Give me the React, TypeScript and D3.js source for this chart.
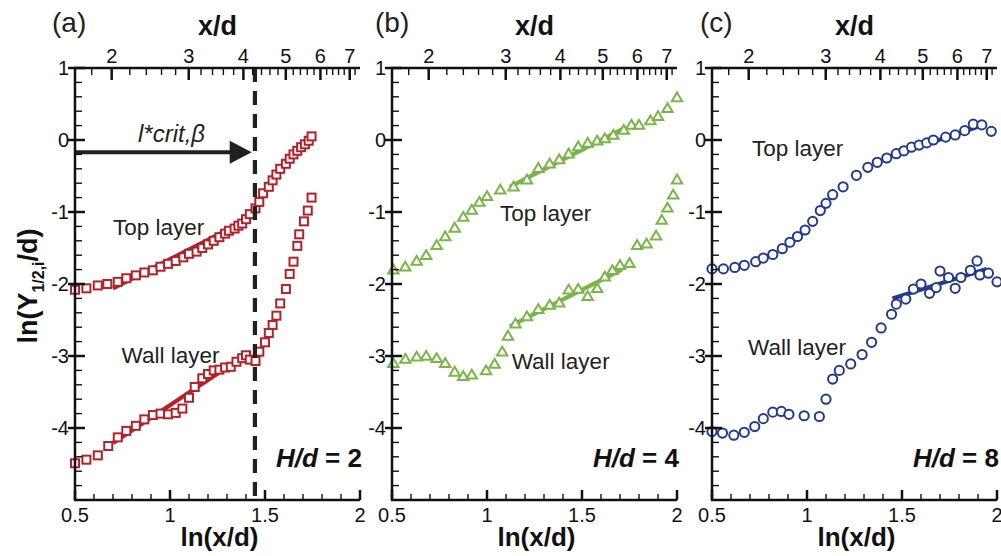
import React from 'react';
import * as d3 from 'd3';

type Pt = [number, number];

// ---- data: [ln(x/d), ln(Y1/2,i/d)] ----
const topA: Pt[] = [[0.50,-2.08],[0.56,-2.06],[0.62,-2.02],[0.67,-2.00],[0.725,-1.97],[0.77,-1.92],[0.82,-1.88],[0.865,-1.84],[0.91,-1.81],[0.95,-1.76],[0.99,-1.72],[1.03,-1.68],[1.07,-1.63],[1.10,-1.58],[1.14,-1.55],[1.17,-1.50],[1.20,-1.45],[1.23,-1.40],[1.26,-1.35],[1.29,-1.30],[1.31,-1.26],[1.34,-1.23],[1.36,-1.19],[1.38,-1.16],[1.40,-1.10],[1.42,-1.03],[1.45,-0.95],[1.47,-0.86],[1.49,-0.74],[1.52,-0.65],[1.54,-0.56],[1.56,-0.48],[1.58,-0.40],[1.61,-0.33],[1.63,-0.26],[1.65,-0.20],[1.67,-0.15],[1.69,-0.10],[1.71,-0.06],[1.73,-0.01],[1.745,0.05]];
const wallA: Pt[] = [[0.50,-4.49],[0.56,-4.44],[0.62,-4.38],[0.675,-4.25],[0.725,-4.13],[0.77,-4.04],[0.82,-3.97],[0.865,-3.88],[0.91,-3.82],[0.95,-3.80],[0.99,-3.81],[1.03,-3.79],[1.065,-3.73],[1.10,-3.58],[1.13,-3.43],[1.17,-3.31],[1.20,-3.25],[1.23,-3.20],[1.26,-3.19],[1.29,-3.16],[1.32,-3.15],[1.35,-3.08],[1.38,-3.03],[1.40,-2.99],[1.42,-3.05],[1.45,-3.07],[1.47,-2.94],[1.50,-2.81],[1.52,-2.68],[1.54,-2.57],[1.56,-2.44],[1.58,-2.27],[1.61,-2.07],[1.63,-1.86],[1.65,-1.69],[1.67,-1.47],[1.68,-1.31],[1.705,-1.13],[1.725,-0.98],[1.745,-0.80]];
const fitTopA: Pt[] = [[0.70,-2.06],[1.39,-1.13]];
const fitWallA: Pt[] = [[0.70,-4.21],[1.39,-3.00]];

const topB: Pt[] = [[0.507,-1.80],[0.57,-1.76],[0.63,-1.68],[0.68,-1.60],[0.735,-1.46],[0.78,-1.34],[0.83,-1.22],[0.875,-1.07],[0.92,-0.97],[0.96,-0.86],[1.00,-0.78],[1.07,-0.69],[1.14,-0.65],[1.21,-0.55],[1.27,-0.39],[1.33,-0.33],[1.38,-0.27],[1.43,-0.19],[1.48,-0.09],[1.53,-0.04],[1.58,-0.01],[1.62,0.02],[1.665,0.07],[1.72,0.14],[1.76,0.21],[1.80,0.21],[1.86,0.27],[1.90,0.33],[1.95,0.44],[2.00,0.59]];
const wallB: Pt[] = [[0.507,-3.10],[0.57,-3.04],[0.63,-3.01],[0.68,-3.00],[0.735,-3.03],[0.78,-3.10],[0.83,-3.22],[0.875,-3.28],[0.92,-3.26],[0.995,-3.20],[1.04,-3.11],[1.08,-2.94],[1.11,-2.72],[1.15,-2.55],[1.21,-2.45],[1.27,-2.35],[1.33,-2.29],[1.38,-2.26],[1.43,-2.08],[1.48,-2.07],[1.53,-2.17],[1.58,-2.06],[1.62,-1.90],[1.66,-1.81],[1.70,-1.74],[1.75,-1.71],[1.79,-1.46],[1.84,-1.44],[1.89,-1.33],[1.92,-1.11],[1.95,-0.94],[1.98,-0.76],[2.00,-0.55]];
const fitTopB: Pt[] = [[1.12,-0.65],[1.72,0.16]];
const fitWallB: Pt[] = [[1.12,-2.59],[1.71,-1.80]];

const topC: Pt[] = [[0.50,-1.79],[0.56,-1.79],[0.62,-1.77],[0.67,-1.74],[0.73,-1.69],[0.77,-1.64],[0.82,-1.59],[0.87,-1.51],[0.91,-1.42],[0.95,-1.34],[0.99,-1.25],[1.03,-1.13],[1.07,-0.98],[1.10,-0.88],[1.135,-0.76],[1.19,-0.65],[1.26,-0.49],[1.32,-0.38],[1.37,-0.31],[1.42,-0.25],[1.47,-0.19],[1.51,-0.15],[1.55,-0.10],[1.59,-0.07],[1.63,-0.04],[1.665,0.00],[1.73,0.04],[1.78,0.07],[1.83,0.13],[1.875,0.22],[1.92,0.21],[1.97,0.12]];
const wallC: Pt[] = [[0.50,-4.05],[0.555,-4.07],[0.615,-4.10],[0.67,-4.06],[0.725,-3.98],[0.77,-3.87],[0.82,-3.78],[0.865,-3.77],[0.905,-3.81],[0.985,-3.83],[1.065,-3.84],[1.10,-3.60],[1.135,-3.32],[1.17,-3.20],[1.23,-3.11],[1.29,-2.98],[1.34,-2.81],[1.39,-2.61],[1.445,-2.42],[1.47,-2.28],[1.52,-2.21],[1.56,-2.07],[1.60,-2.00],[1.645,-2.13],[1.68,-2.05],[1.70,-1.82],[1.745,-1.91],[1.78,-2.06],[1.81,-1.91],[1.86,-1.81],[1.895,-1.68],[1.91,-1.875],[1.955,-1.85],[2.00,-1.97]];
const fitTopC: Pt[] = [[1.455,-0.21],[1.94,0.22]];
const fitWallC: Pt[] = [[1.45,-2.20],[1.945,-1.79]];

// critical length marker in panel (a)
const critX = 1.447;
const arrowY = -0.17;

// ticks
const yTicks = [1, 0, -1, -2, -3, -4];
const xTicks = [0.5, 1, 1.5, 2];
const topMajor = [2, 3, 4, 5, 6, 7];

const FONT = "'Liberation Sans', Arial, Helvetica, sans-serif";
const TXT = '#231f20';

type Marker = 'square' | 'triangle' | 'circle';

interface PanelCfg {
  x0: number;
  label: string;
  hd: string;
  color: string;
  marker: Marker;
  top: Pt[];
  wall: Pt[];
  fitTop: Pt[];
  fitWall: Pt[];
  topTxt: Pt;
  wallTxt: Pt;
  labelX: number;
}

const panels: PanelCfg[] = [
  { x0: 75, label: '(a)', hd: '2', color: '#b3212b', marker: 'square', top: topA, wall: wallA, fitTop: fitTopA, fitWall: fitWallA, topTxt: [0.70, -1.32], wallTxt: [0.745, -3.10], labelX: 52 },
  { x0: 392, label: '(b)', hd: '4', color: '#7ab547', marker: 'triangle', top: topB, wall: wallB, fitTop: fitTopB, fitWall: fitWallB, topTxt: [1.068, -1.125], wallTxt: [1.13, -3.18], labelX: 375 },
  { x0: 712, label: '(c)', hd: '8', color: '#253a8e', marker: 'circle', top: topC, wall: wallC, fitTop: fitTopC, fitWall: fitWallC, topTxt: [0.71, -0.22], wallTxt: [0.69, -2.99], labelX: 700 },
];

const W = 285;
const yTop = 68;
const yBot = 500;

function MarkerShape({ kind, cx, cy, color }: { kind: Marker; cx: number; cy: number; color: string }) {
  if (kind === 'square') {
    return <rect x={cx - 4} y={cy - 4} width={8} height={8} fill="white" stroke={color} strokeWidth={2} />;
  }
  if (kind === 'triangle') {
    const p = `M${cx},${cy - 5}L${cx + 5.2},${cy + 3.8}L${cx - 5.2},${cy + 3.8}Z`;
    return <path d={p} fill="white" stroke={color} strokeWidth={2} strokeLinejoin="miter" />;
  }
  return <circle cx={cx} cy={cy} r={4.6} fill="white" stroke={color} strokeWidth={2} />;
}

function Panel({ cfg, first }: { cfg: PanelCfg; first: boolean }) {
  const x = d3.scaleLinear().domain([0.5, 2]).range([cfg.x0, cfg.x0 + W]);
  const y = d3.scaleLinear().domain([-5, 1]).range([yBot, yTop]);
  const line = d3.line<Pt>().x(d => x(d[0])).y(d => y(d[1]));

  const yMinor = d3.range(-5, 1.001, 0.2).filter(v => Math.abs(v - Math.round(v)) > 1e-6);
  const xMinor = d3.range(0.5, 2.001, 0.1).filter(v => Math.abs(v * 2 - Math.round(v * 2)) > 1e-6);
  const topMinor = d3.range(1.8, 7.21, 0.2).filter(v => Math.abs(v - Math.round(v)) > 1e-6 && Math.log(v) <= 2);

  const ax = '#111';
  const sw = 2.5;
  const cx = cfg.x0 + W / 2;

  return (
    <g>
      {/* fit lines */}
      <path d={line(cfg.fitTop) || ''} stroke={cfg.color} strokeWidth={4.2} fill="none" />
      <path d={line(cfg.fitWall) || ''} stroke={cfg.color} strokeWidth={4.2} fill="none" />
      {/* markers */}
      {cfg.top.map((d, i) => <MarkerShape key={'t' + i} kind={cfg.marker} cx={x(d[0])} cy={y(d[1])} color={cfg.color} />)}
      {cfg.wall.map((d, i) => <MarkerShape key={'w' + i} kind={cfg.marker} cx={x(d[0])} cy={y(d[1])} color={cfg.color} />)}

      {first && (
        <g>
          <line x1={x(critX)} x2={x(critX)} y1={y(1)} y2={y(-5)} stroke="#231f20" strokeWidth={4.2} strokeDasharray="14 9" />
          <line x1={x(0.5)} x2={x(1.43) - 18} y1={y(arrowY)} y2={y(arrowY)} stroke="#231f20" strokeWidth={4} />
          <path d={`M${x(1.43)},${y(arrowY)}L${x(1.43) - 22},${y(arrowY) - 11.5}L${x(1.43) - 22},${y(arrowY) + 11.5}Z`} fill="#231f20" />
          <text x={138} y={142} fontFamily={FONT} fontSize={24} fontStyle="italic" fill={TXT}>l*crit,β</text>
        </g>
      )}

      {/* axes */}
      <line x1={cfg.x0} x2={cfg.x0} y1={yTop} y2={yBot} stroke={ax} strokeWidth={sw} />
      <line x1={cfg.x0 - 1} x2={cfg.x0 + W} y1={yBot} y2={yBot} stroke={ax} strokeWidth={sw} />
      <line x1={cfg.x0 - 1} x2={cfg.x0 + W} y1={yTop} y2={yTop} stroke={ax} strokeWidth={sw} />

      {yTicks.map(v => (
        <g key={'y' + v}>
          <line x1={cfg.x0 - 7} x2={cfg.x0 + 10} y1={y(v)} y2={y(v)} stroke={ax} strokeWidth={sw} />
          <text x={cfg.x0 - 6} y={y(v)} dy="0.36em" textAnchor="end" fontFamily={FONT} fontSize={20} fill="#111">{v < 0 ? '-' + Math.abs(v) : v}</text>
        </g>
      ))}
      {yMinor.map(v => <line key={'ym' + v.toFixed(2)} x1={cfg.x0} x2={cfg.x0 + 7} y1={y(v)} y2={y(v)} stroke={ax} strokeWidth={1.4} />)}

      {xTicks.map(v => (
        <g key={'x' + v}>
          <line x1={x(v)} x2={x(v)} y1={yBot} y2={yBot - 10} stroke={ax} strokeWidth={sw} />
          <text x={x(v)} y={yBot + 22} textAnchor="middle" fontFamily={FONT} fontSize={20} fill="#111">{v}</text>
        </g>
      ))}
      {xMinor.map(v => <line key={'xm' + v.toFixed(2)} x1={x(v)} x2={x(v)} y1={yBot} y2={yBot - 6} stroke={ax} strokeWidth={1.4} />)}

      {topMajor.map(v => (
        <g key={'tx' + v}>
          <line x1={x(Math.log(v))} x2={x(Math.log(v))} y1={yTop} y2={yTop + 12} stroke={ax} strokeWidth={sw} />
          <text x={x(Math.log(v))} y={yTop - 5} textAnchor="middle" fontFamily={FONT} fontSize={20} fill="#111">{v}</text>
        </g>
      ))}
      {topMinor.map(v => <line key={'tm' + v.toFixed(2)} x1={x(Math.log(v))} x2={x(Math.log(v))} y1={yTop} y2={yTop + 7} stroke={ax} strokeWidth={1.4} />)}

      {/* titles */}
      <text x={cx} y={35} textAnchor="middle" fontFamily={FONT} fontSize={27} fontWeight="bold" fill="#111">x/d</text>
      <text x={cx + 2} y={546} textAnchor="middle" fontFamily={FONT} fontSize={26} fontWeight="bold" fill="#111">ln(x/d)</text>
      <text x={cfg.labelX} y={32} fontFamily={FONT} fontSize={28} fill={TXT}>{cfg.label}</text>

      <text x={x(cfg.topTxt[0])} y={y(cfg.topTxt[1])} fontFamily={FONT} fontSize={22.5} fill={TXT}>Top layer</text>
      <text x={x(cfg.wallTxt[0])} y={y(cfg.wallTxt[1])} fontFamily={FONT} fontSize={22.5} fill={TXT}>Wall layer</text>

      <text x={cfg.x0 + W + 2} y={467} textAnchor="end" fontFamily={FONT} fontSize={26} fontWeight="bold" fill="#111">
        <tspan fontStyle="italic">H</tspan><tspan fontStyle="italic">/</tspan><tspan fontStyle="italic">d</tspan> = {cfg.hd}
      </text>
    </g>
  );
}

export default function App() {
  return (
    <svg width={1001} height={556} style={{ position: 'absolute', left: 0, top: 0, background: 'white' }}>
      <rect width={1001} height={556} fill="white" />
      {panels.map((p, i) => <Panel key={p.label} cfg={p} first={i === 0} />)}
      <text transform="translate(37,286) rotate(-90)" textAnchor="middle" fontFamily={FONT} fontSize={27} fontWeight="bold" fill="#111">
        ln(Y<tspan fontSize={16} dy={7}>1/2,i</tspan><tspan dy={-7}>/d)</tspan>
      </text>
    </svg>
  );
}
